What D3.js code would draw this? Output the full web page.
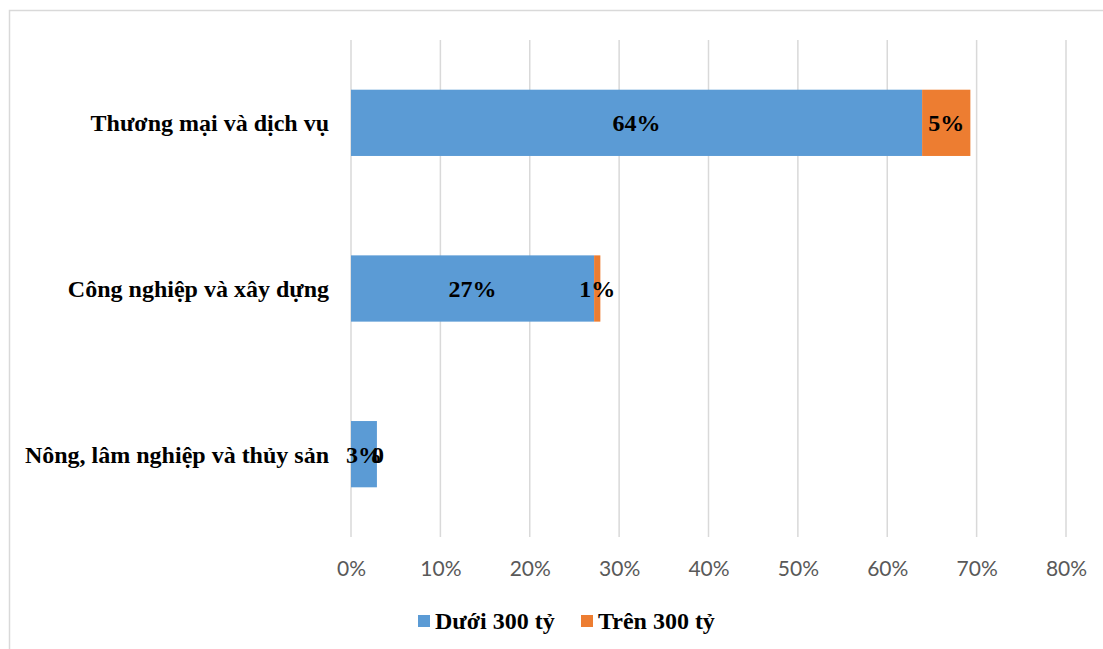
<!DOCTYPE html>
<html><head><meta charset="utf-8">
<script src="https://cdn.jsdelivr.net/npm/d3@7"></script>
<style>body{margin:0;background:#fff}svg{display:block}</style>
</head><body>
<svg id="c" width="1103" height="649"></svg>
<script>
const categories = ["Thương mại và dịch vụ", "Công nghiệp và xây dựng", "Nông, lâm nghiệp và thủy sản"];
const seriesNames = ["Dưới 300 tỷ", "Trên 300 tỷ"];
const under300 = [63.9, 27.2, 2.9];
const over300 = [5.4, 0.7, 0.0];
const under300Labels = ["64%", "27%", "3%"];
const over300Labels = ["5%", "1%", "0"];
const tickValues = [0, 10, 20, 30, 40, 50, 60, 70, 80];
const colors = ["#5B9BD5", "#ED7D31"];

const svg = d3.select("#c");
svg.append("rect").attr("x", 9.5).attr("y", 10.5).attr("width", 1100).attr("height", 650)
  .attr("fill", "#fff").attr("stroke", "#d9d9d9").attr("stroke-width", 1.5);

const x = d3.scaleLinear().domain([0, 80]).range([351, 1066]);
const y = d3.scaleBand().domain(categories).range([40, 537]).paddingInner(0.6).paddingOuter(0.3);

// gridlines
svg.append("g").selectAll("line").data(tickValues).join("line")
  .attr("x1", d => x(d)).attr("x2", d => x(d)).attr("y1", 40).attr("y2", 537)
  .attr("stroke", "#d9d9d9").attr("stroke-width", 1.5);

// x axis labels
const xAxis = d3.axisBottom(x).tickValues(tickValues).tickFormat(d => d + "%").tickSize(0).tickPadding(0);
const xg = svg.append("g").attr("transform", "translate(0,560)").call(xAxis);
xg.select(".domain").remove();
xg.selectAll("text").attr("dy", null).attr("y", 16).attr("fill", "#595959")
  .attr("font-family", "Lato, sans-serif").attr("font-size", 21);

// y axis labels
const serif = "'Liberation Serif', 'Times New Roman', serif";
const yAxis = d3.axisLeft(y).tickSize(0).tickPadding(0);
const yg = svg.append("g").attr("transform", "translate(329,0)").call(yAxis);
yg.select(".domain").remove();
yg.selectAll("text").attr("fill", "#000").attr("font-family", serif)
  .attr("font-weight", "bold").attr("font-size", 24).attr("dy", "0.35em");

const stacked = categories.map((c, i) => ({c, a: under300[i], b: over300[i], la: under300Labels[i], lb: over300Labels[i]}));

// bars
svg.append("g").selectAll("rect").data(stacked).join("rect")
  .attr("x", x(0)).attr("y", d => y(d.c)).attr("width", d => x(d.a) - x(0)).attr("height", y.bandwidth())
  .attr("fill", colors[0]);
svg.append("g").selectAll("rect").data(stacked).join("rect")
  .attr("x", d => x(d.a)).attr("y", d => y(d.c)).attr("width", d => x(d.a + d.b) - x(d.a)).attr("height", y.bandwidth())
  .attr("fill", colors[1]);

// labels
svg.append("g").selectAll("text").data(stacked).join("text")
  .attr("x", d => (x(0) + x(d.a)) / 2).attr("y", d => y(d.c) + y.bandwidth() / 2).attr("dy", "0.35em")
  .attr("text-anchor", "middle").attr("font-family", serif).attr("font-weight", "bold").attr("font-size", 24)
  .text(d => d.la);
svg.append("g").selectAll("text").data(stacked).join("text")
  .attr("x", d => (x(d.a) + x(d.a + d.b)) / 2 + (d.b < 0.1 ? 1 : 0)).attr("y", d => y(d.c) + y.bandwidth() / 2).attr("dy", "0.35em")
  .attr("text-anchor", "middle").attr("font-family", serif).attr("font-weight", "bold").attr("font-size", 24)
  .text(d => d.lb);

// legend
const leg = svg.append("g");
const legX = [418, 581];
seriesNames.forEach((s, i) => {
  leg.append("rect").attr("x", legX[i]).attr("y", 615).attr("width", 12).attr("height", 12).attr("fill", colors[i]);
  leg.append("text").attr("x", legX[i] + 17).attr("y", 629).attr("font-family", serif)
    .attr("font-weight", "bold").attr("font-size", 24).attr("fill", "#000").text(s);
});
</script>
</body></html>
